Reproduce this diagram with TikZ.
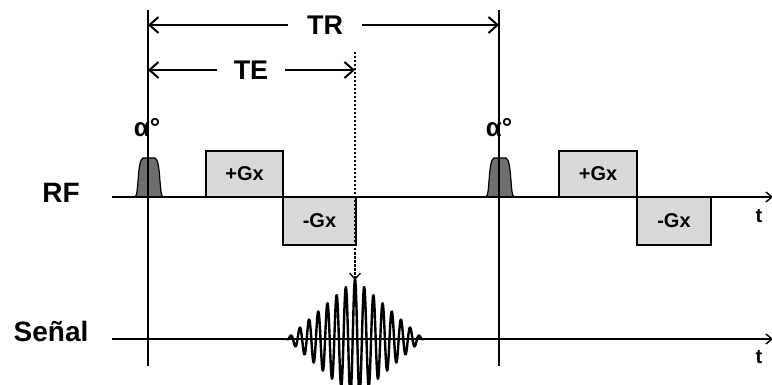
\documentclass[tikz,border=0pt]{standalone}
\usepackage{fontspec}
\setmainfont{Liberation Sans}
\usetikzlibrary{arrows.meta}
\definecolor{boxgray}{RGB}{217,217,217}
\definecolor{pulsegray}{RGB}{110,110,110}
\begin{document}
\begin{tikzpicture}[x=1pt,y=-1pt,
  axisline/.style={line width=2pt},
  gbox/.style={draw, line width=1.4pt, fill=boxgray, inner sep=0pt,
    font=\bfseries\fontsize{20}{22}\selectfont},
  biglbl/.style={font=\bfseries\fontsize{28}{30}\selectfont, inner sep=0pt},
  dimlbl/.style={font=\bfseries\fontsize{27}{29}\selectfont, inner ysep=0pt},
  dimarrow/.style={line width=2pt, -{Straight Barb[length=9pt,width=16pt,line width=2pt]}},
  alphalbl/.style={font=\bfseries\fontsize{26}{28}\selectfont, inner sep=0pt},
  tlbl/.style={font=\bfseries\fontsize{20}{22}\selectfont, inner sep=0pt},
  axisarrow/.style={line width=1.6pt, -{Straight Barb[length=6pt,width=10pt,line width=1.4pt]}}
]
\useasboundingbox (0,0) rectangle (772,385);
\clip (0,0) rectangle (772,385);

% coordinates
\coordinate (L1top) at (148,10);
\coordinate (L1bot) at (148,366);
\coordinate (L2top) at (499,10);
\coordinate (L2bot) at (499,366);
\coordinate (rfstart) at (112,197);
\coordinate (rfend) at (773,197);
\coordinate (sgstart) at (112,339);
\coordinate (sgend) at (773,339);
\coordinate (trL) at (148,25);
\coordinate (trR) at (499,25);
\coordinate (teL) at (148,70);
\coordinate (teR) at (355,70);
\coordinate (dtop) at (355,52);
\coordinate (dbot) at (355,280);

% labels
\node[biglbl] (rf) at (61,193) {RF};
\node[biglbl] (senal) at (51,331) {Señal};
\node[tlbl] (t1) at (759,216) {t};
\node[tlbl] (t2) at (759,357) {t};
\node[alphalbl, anchor=base] (a1) at (147,137) {α°};
\node[alphalbl, anchor=base] (a2) at (499,137) {α°};

% gradient boxes
\node[gbox, minimum width=77pt, minimum height=46pt] (gp1) at (244.5,174) {+Gx};
\node[gbox, minimum width=73pt, minimum height=48pt] (gn1) at (319.5,221) {-Gx};
\node[gbox, minimum width=78pt, minimum height=46pt] (gp2) at (598,174) {+Gx};
\node[gbox, minimum width=74pt, minimum height=48pt] (gn2) at (674,221) {-Gx};

% RF pulses
\draw[line width=1.2pt, fill=pulsegray]
  (135,197) .. controls (139,196) and (137,160) .. (143,158) -- (155,158)
  .. controls (161,160) and (159,196) .. (163,197) -- cycle;
\draw[line width=1.2pt, fill=pulsegray]
  (486,197) .. controls (490,196) and (488,160) .. (494,158) -- (506,158)
  .. controls (512,160) and (510,196) .. (514,197) -- cycle;

% axes
\draw[axisarrow] (rfstart) -- (rfend);
\draw[axisarrow] (sgstart) -- (sgend);

% vertical lines
\draw[axisline] (L1top) -- (L1bot);
\draw[axisline] (L2top) -- (L2bot);

% signal
\draw[line width=2.4pt, line join=round]
  plot[domain=-68:68, samples=700]
  ({355+\x},{339-60*(1-abs(\x)/68)*cos(\x/9.2*360)});

% dashed echo marker
\draw[line width=1.3pt, dash pattern=on 2.5pt off 1.5pt,
  -{Straight Barb[length=6pt,width=11pt,line width=1.3pt]}] (dtop) -- (dbot);

% TR / TE
\node[dimlbl, inner xsep=19pt] (TR) at (325,25) {TR};
\draw[dimarrow] (TR.west) -- (trL);
\draw[dimarrow] (TR.east) -- (trR);
\node[dimlbl, inner xsep=17pt] (TE) at (251,70) {TE};
\draw[dimarrow] (TE.west) -- (teL);
\draw[dimarrow] (TE.east) -- (teR);
\end{tikzpicture}
\end{document}
